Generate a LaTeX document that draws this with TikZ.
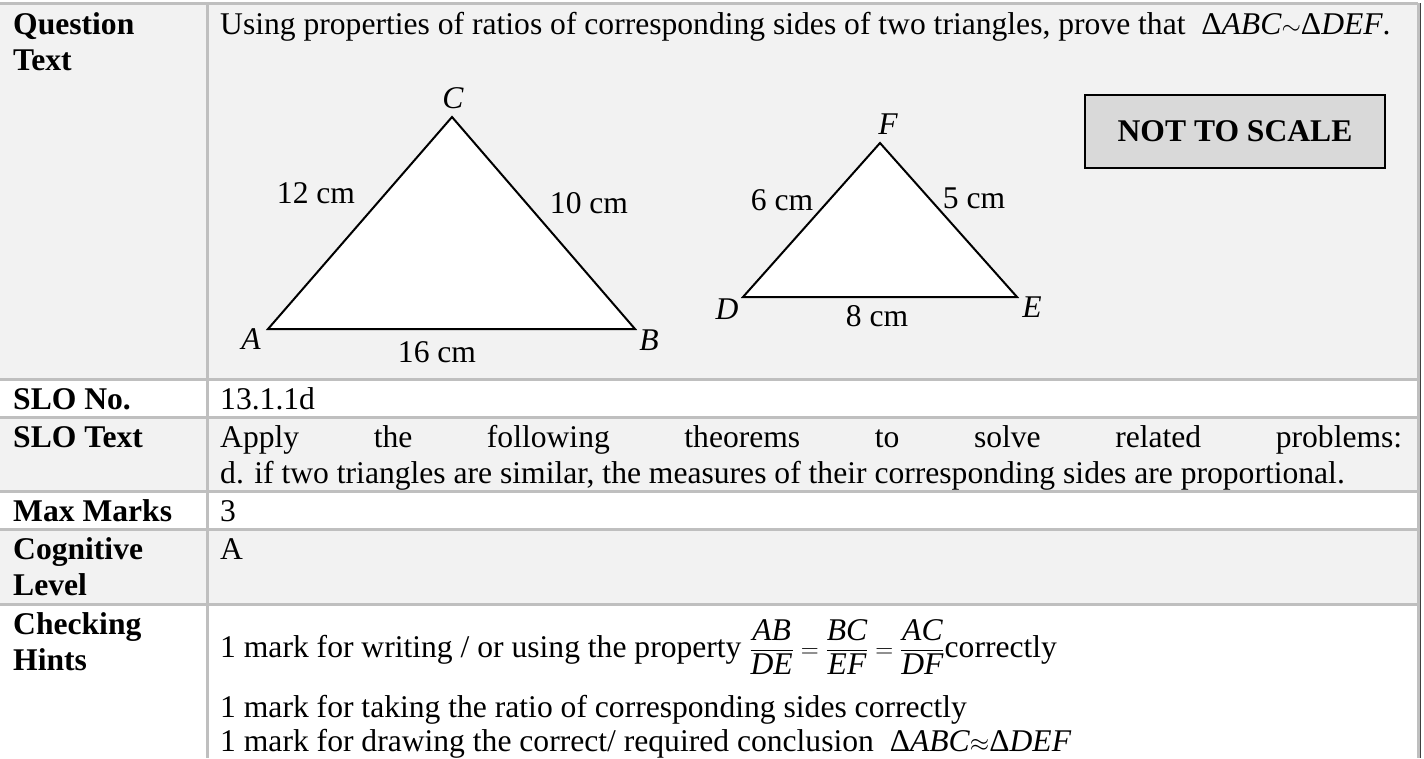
\documentclass[tikz,border=0pt]{standalone}
\usepackage{amsmath}
\usepackage{fontspec}
\setmainfont{Liberation Serif}
\usepackage{xcolor}
\usepackage{tikz}
\usetikzlibrary{positioning}

\definecolor{cellgray}{HTML}{F2F2F2}
\definecolor{rulegray}{HTML}{BFBFBF}
\definecolor{boxgray}{HTML}{D9D9D9}

\begin{document}
\begin{tikzpicture}[
    x=1pt, y=-1pt,
    every node/.style={inner sep=0pt, font=\fontsize{31.6}{36}\selectfont},
    head/.style={anchor=base west, font=\fontsize{31.6}{36}\selectfont\bfseries},
    cell/.style={anchor=base west},
    vertex/.style={font=\fontsize{31.6}{36}\selectfont\itshape},
    tri/.style={draw=black, fill=white, line width=2pt, line join=miter},
    rowline/.style={draw=rulegray, line width=3pt},
    notebox/.style={rectangle, draw=black, fill=boxgray, line width=1.6pt, minimum width=300pt, minimum height=73pt, font=\fontsize{31.6}{36}\selectfont\bfseries}
]
\useasboundingbox (0,0) rectangle (1424,758);

% table background
\fill[white] (0,0) rectangle (1424,758);
\fill[cellgray] (0,3) rectangle (1418,379);
\fill[cellgray] (0,417) rectangle (1418,491);
\fill[cellgray] (0,529) rectangle (1418,604);

\foreach \y in {3,379,417,491,529,604}
    \draw[rowline] (0,\y) -- (1418,\y);
\draw[rowline] (207,3) -- (207,758);
\draw[rowline] (1418,3) -- (1418,758);
\draw[black!75, line width=1pt] (1420,3) -- (1420,758);

% question row
\node[head] (qhead) at (13,34) {Question};
\node[head] (qhead2) at (13,70) {Text};
\node[cell] (qtext) at (220,34) {Using properties of ratios of corresponding sides of two triangles, prove that\ \ Δ\textit{ABC}$\sim$Δ\textit{DEF}.};

% triangle ABC
\coordinate (A) at (268,329);
\coordinate (B) at (635,329);
\coordinate (C) at (452,117);
\draw[tri] (A) -- (B) -- (C) -- cycle;
\node[vertex] (labA) at (251,339) {A};
\node[vertex] (labB) at (649,340) {B};
\node[vertex] (labC) at (453,98) {C};
\node (sideAC) at (316,193) {12 cm};
\node (sideBC) at (589,203) {10 cm};
\node (sideAB) at (437,352) {16 cm};

% triangle DEF
\coordinate (D) at (743,297);
\coordinate (E) at (1017,297);
\coordinate (F) at (880,143);
\draw[tri] (D) -- (E) -- (F) -- cycle;
\node[vertex] (labD) at (727,309) {D};
\node[vertex] (labE) at (1032,307) {E};
\node[vertex] (labF) at (888,124) {F};
\node (sideDF) at (782,200) {6 cm};
\node (sideEF) at (974,198) {5 cm};
\node (sideDE) at (877,316) {8 cm};

\node[notebox] (nts) at (1235,131.5) {NOT TO SCALE};

% other rows
\node[head] (slono) at (13,409) {SLO No.};
\node[cell] (slonum) at (220,409) {13.1.1d};
\node[head] (slotext) at (13,447) {SLO Text};
\node[cell] (slol1) at (220,447) {\makebox[1182pt][s]{Apply the following theorems to solve related problems:}};
\node[cell] (slol2) at (220,483) {d. if two triangles are similar, the measures of their corresponding sides are proportional.};
\node[head] (maxm) at (13,521) {Max Marks};
\node[cell] (maxv) at (220,521) {3};
\node[head] (cog1) at (13,559) {Cognitive};
\node[head] (cog2) at (13,595) {Level};
\node[cell] (cogv) at (220,559) {A};
\node[head] (chk1) at (13,634) {Checking};
\node[head] (chk2) at (13,670) {Hints};
\node[cell] (hint1) at (220,657) {1 mark for writing / or using the property $\dfrac{\textit{AB}}{\textit{DE}}=\dfrac{\textit{BC}}{\textit{EF}}=\dfrac{\textit{AC}}{\textit{DF}}$correctly};
\node[cell] (hint2) at (220,717) {1 mark for taking the ratio of corresponding sides correctly};
\node[cell] (hint3) at (220,751) {1 mark for drawing the correct/ required conclusion\ \ Δ\textit{ABC}$\approx$Δ\textit{DEF}};

\end{tikzpicture}
\end{document}
